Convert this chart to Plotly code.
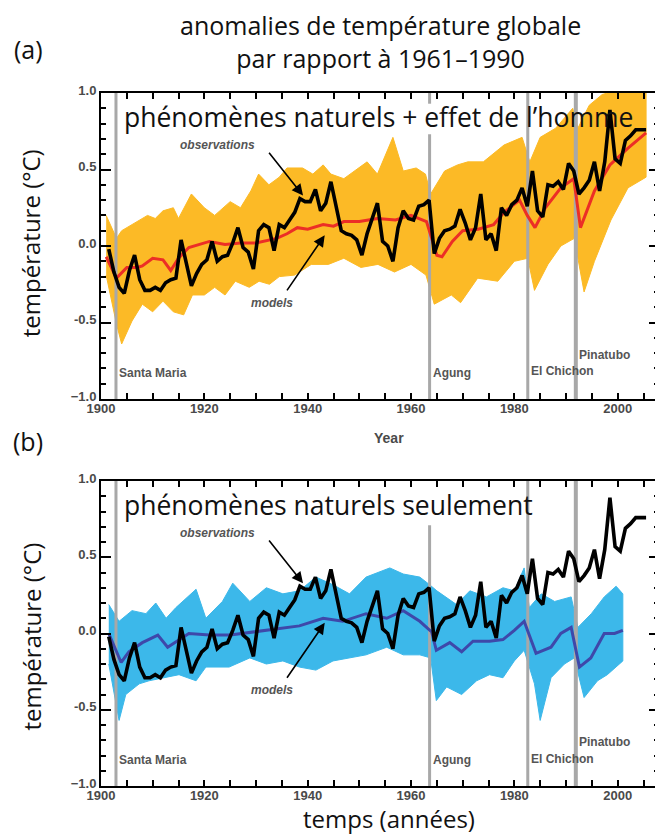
import plotly.graph_objects as go

# observed annual anomalies (°C), plotted at mid-year
obs_years = list(range(1901, 2006))
obs_vals = [
    -0.02, -0.17, -0.27, -0.31, -0.16, -0.06, -0.22, -0.29, -0.29, -0.27,   # 1901-1910
    -0.29, -0.24, -0.22, -0.21, 0.04, -0.12, -0.26, -0.18, -0.12, -0.09,    # 1911-1920
    0.03, -0.10, -0.07, -0.06, 0.02, 0.12, -0.01, -0.04, -0.15, 0.10,       # 1921-1930
    0.14, 0.12, -0.03, 0.14, 0.12, 0.17, 0.22, 0.31, 0.29, 0.29,            # 1931-1940
    0.37, 0.23, 0.28, 0.42, 0.25, 0.10, 0.08, 0.07, 0.04, -0.06,            # 1941-1950
    0.08, 0.18, 0.28, 0.03, 0.00, -0.10, 0.12, 0.23, 0.18, 0.17,            # 1951-1960
    0.26, 0.27, 0.30, -0.05, 0.05, 0.10, 0.11, 0.13, 0.24, 0.15,            # 1961-1970
    0.04, 0.12, 0.34, 0.04, 0.08, -0.03, 0.25, 0.20, 0.27, 0.30,            # 1971-1980
    0.38, 0.26, 0.49, 0.23, 0.19, 0.40, 0.39, 0.42, 0.37, 0.54,             # 1981-1990
    0.49, 0.34, 0.38, 0.43, 0.55, 0.36, 0.55, 0.89, 0.57, 0.54,             # 1991-2000
    0.69, 0.72, 0.76, 0.76, 0.76,                                            # 2001-2005
]

# (a) natural + anthropogenic: model ensemble envelope and mean
a_up_years = [1901, 1903, 1904, 1907, 1909, 1910.5, 1912, 1914, 1915, 1917.5, 1920, 1922,
              1925, 1927, 1929, 1930.5, 1932.5, 1934.5, 1936, 1939, 1941, 1943, 1944.5,
              1947, 1951.5, 1953.5, 1956.5, 1958.5, 1961, 1962.8, 1963.8, 1966.5, 1969,
              1971, 1974, 1978, 1981.5, 1983, 1985, 1988, 1991.3, 1992.3, 1994.5, 1997,
              2001, 2005.5]
a_up_vals = [0.20, 0.05, 0.10, 0.16, 0.20, 0.18, 0.23, 0.25, 0.18, 0.34, 0.25, 0.20,
             0.29, 0.25, 0.36, 0.47, 0.40, 0.45, 0.51, 0.51, 0.47, 0.53, 0.47,
             0.44, 0.55, 0.47, 0.71, 0.49, 0.51, 0.47, 0.34, 0.49, 0.53,
             0.55, 0.55, 0.66, 0.71, 0.55, 0.71, 0.77, 0.90, 0.77, 0.92, 0.99,
             1.03, 1.00]
a_lo_years = [1901, 1903, 1904, 1906, 1908, 1910, 1912, 1914, 1916, 1917.7, 1920, 1922,
              1924, 1926, 1928.7, 1930.6, 1932.6, 1934.5, 1937.5, 1940.7, 1944, 1947,
              1950.3, 1953.6, 1956.8, 1960, 1962.9, 1964.5, 1967.8, 1969.6, 1972.9, 1976.8,
              1980, 1982.6, 1983.9, 1986.5, 1989, 1991.6, 1993.5, 1995.5, 1998.7, 2002, 2005.5]
a_lo_vals = [-0.19, -0.51, -0.64, -0.49, -0.38, -0.43, -0.36, -0.43, -0.45, -0.32, -0.32, -0.27,
             -0.32, -0.23, -0.27, -0.23, -0.25, -0.20, -0.19, -0.12, -0.12, -0.08,
             -0.14, -0.12, -0.17, -0.12, -0.19, -0.38, -0.32, -0.37, -0.21, -0.23,
             -0.10, -0.08, -0.29, -0.12, 0.00, 0.05, -0.30, -0.10, 0.17, 0.38, 0.45]
a_mean_years = [1901, 1903, 1905, 1907, 1908, 1910, 1912, 1913.5, 1915, 1917, 1921, 1924,
                1927, 1930, 1934, 1936, 1938, 1940, 1943, 1945, 1947, 1950, 1953.5, 1957,
                1960, 1963, 1965, 1966, 1968, 1970, 1973, 1976, 1978, 1981, 1982.5, 1984,
                1986, 1989, 1991.5, 1992.8, 1995.5, 1998.5, 2002, 2005.5]
a_mean_vals = [-0.07, -0.21, -0.14, -0.14, -0.13, -0.08, -0.09, -0.16, -0.08, -0.01, 0.03, 0.01,
               0.02, 0.02, 0.05, 0.08, 0.12, 0.11, 0.14, 0.13, 0.16, 0.16, 0.18, 0.17,
               0.20, 0.16, -0.06, -0.07, 0.03, 0.10, 0.11, 0.14, 0.22, 0.30, 0.20, 0.12,
               0.25, 0.38, 0.44, 0.12, 0.36, 0.53, 0.64, 0.74]

# (b) natural forcing only
b_up_years = [1901.5, 1903.5, 1906, 1908.7, 1910.6, 1912.6, 1914.5, 1918.4, 1920.3, 1923.5,
              1925.5, 1928.8, 1932, 1935.2, 1938.4, 1941.6, 1944.9, 1948.1, 1951.3, 1955.9,
              1958.5, 1961.7, 1963.6, 1965, 1968.8, 1971.4, 1974.6, 1977.8, 1980, 1981.9,
              1982.9, 1985.2, 1987.8, 1991, 1992.3, 1994.9, 1997.4, 1999.7, 2001]
b_up_vals = [0.19, 0.08, 0.15, 0.13, 0.20, 0.10, 0.17, 0.29, 0.10, 0.21,
             0.33, 0.21, 0.30, 0.26, 0.28, 0.37, 0.32, 0.26, 0.37, 0.43,
             0.39, 0.37, 0.32, 0.28, 0.19, 0.28, 0.24, 0.30, 0.28, 0.43,
             0.17, 0.26, 0.21, 0.24, 0.04, 0.13, 0.24, 0.31, 0.26]
b_lo_years = [1901.5, 1903.5, 1904.8, 1907.4, 1909.3, 1911.9, 1915.1, 1918.4, 1920.3, 1924.8,
              1928.8, 1932, 1935.2, 1938.4, 1941.6, 1944.9, 1948.1, 1951.3, 1955.3, 1958.5,
              1961.7, 1963.8, 1964.9, 1966.9, 1969.8, 1972.7, 1975.2, 1977.8, 1980, 1981.9,
              1983.9, 1985, 1987.1, 1989.7, 1991.6, 1993.5, 1996.1, 1998, 2001]
b_lo_vals = [-0.20, -0.57, -0.40, -0.33, -0.31, -0.29, -0.27, -0.31, -0.22, -0.22,
             -0.16, -0.20, -0.18, -0.22, -0.24, -0.18, -0.16, -0.14, -0.09, -0.14,
             -0.14, -0.16, -0.44, -0.35, -0.40, -0.31, -0.27, -0.29, -0.18, -0.11,
             -0.33, -0.57, -0.29, -0.20, -0.16, -0.42, -0.31, -0.27, -0.18]
b_mean_years = [1901.5, 1903.9, 1905.4, 1908, 1911, 1912.9, 1917, 1921, 1925, 1932, 1938.4,
                1943, 1946.8, 1951.3, 1955.3, 1958.5, 1961.7, 1964, 1964.9, 1967.5, 1969.8,
                1972, 1975.2, 1977.8, 1980, 1981.9, 1984.2, 1987.1, 1989, 1991, 1992.6,
                1994.8, 1997.4, 1999.4, 2001]
b_mean_vals = [0.00, -0.19, -0.12, -0.06, -0.01, -0.09, 0.00, -0.01, -0.01, 0.02, 0.05,
               0.10, 0.08, 0.13, 0.10, 0.15, 0.08, 0.01, -0.11, -0.06, -0.12,
               -0.05, -0.05, -0.04, 0.02, 0.08, -0.13, -0.09, 0.00, 0.04, -0.22,
               -0.16, 0.00, 0.00, 0.02]

volcano_names = ["Santa Maria", "Agung", "El Chichon", "Pinatubo"]
volcano_years = [1902.9, 1963.6, 1982.6, 1991.9]

ORANGE = "rgb(252,186,38)"
BLUE = "rgb(60,184,234)"
RED = "rgb(236,46,38)"
NAVY = "rgb(62,72,170)"
GREY = "rgb(168,168,168)"
TXT = "Open Sans"

fig = go.Figure()


def add_panel(xa, ya, up_x, up_y, lo_x, lo_y, m_x, m_y, band_col, mean_col, agung_segments):
    # ensemble envelope
    fig.add_trace(go.Scatter(x=up_x + lo_x[::-1], y=up_y + lo_y[::-1], fill="toself",
                             fillcolor=band_col, line=dict(color=band_col, width=1),
                             mode="lines", xaxis=xa, yaxis=ya, hoverinfo="skip"))
    # volcanic eruptions
    for name, yr in zip(volcano_names, volcano_years):
        segs = agung_segments if name == "Agung" else [(-1, 1)]
        w = 4 if name == "Pinatubo" else 3
        for y0, y1 in segs:
            fig.add_trace(go.Scatter(x=[yr, yr], y=[y0, y1], mode="lines",
                                     line=dict(color=GREY, width=w), xaxis=xa, yaxis=ya,
                                     hoverinfo="skip"))
    fig.add_trace(go.Scatter(x=m_x, y=m_y, mode="lines", line=dict(color=mean_col, width=3),
                             xaxis=xa, yaxis=ya))
    fig.add_trace(go.Scatter(x=[y + 0.5 for y in obs_years], y=obs_vals, mode="lines",
                             line=dict(color="black", width=3.6), xaxis=xa, yaxis=ya))


add_panel("x", "y", a_up_years, a_up_vals, a_lo_years, a_lo_vals, a_mean_years, a_mean_vals,
          ORANGE, RED, [(0.93, 1.0), (-1.0, 0.73)])
add_panel("x2", "y2", b_up_years, b_up_vals, b_lo_years, b_lo_vals, b_mean_years, b_mean_vals,
          BLUE, NAVY, [(-1.0, 0.71)])

tickfont = dict(family="Liberation Sans", size=13, color="#4a4a4a", weight="bold")
xax = dict(range=[1900, 2008], tickvals=[1900, 1920, 1940, 1960, 1980, 2000],
           ticks="inside", ticklen=6, tickwidth=2, tickcolor="black", ticklabelstandoff=-4,
           minor=dict(dtick=5, ticks="inside", ticklen=6, tickwidth=2, tickcolor="black"),
           showline=True, linecolor="black", linewidth=2, mirror="ticks",
           showgrid=False, zeroline=False, tickfont=tickfont)
yax = dict(range=[-1, 1], tickvals=[-1, -0.5, 0, 0.5, 1],
           ticktext=["\u22121.0", "-0.5", "0.0", "0.5", "1.0"], ticklabelshift=-3,
           ticks="inside", ticklen=10, tickwidth=2, tickcolor="black",
           minor=dict(dtick=0.1, ticks="inside", ticklen=5, tickwidth=2, tickcolor="black"),
           showline=True, linecolor="black", linewidth=2, mirror="ticks",
           showgrid=False, zeroline=False, tickfont=tickfont)

fig.update_layout(
    width=663, height=834,
    margin=dict(l=93, r=10, t=85, b=56),
    paper_bgcolor="white", plot_bgcolor="white",
    showlegend=False,
    xaxis=dict(xax, anchor="y"),
    yaxis=dict(yax, domain=[0.5584, 1.0], anchor="x"),
    xaxis2=dict(xax, anchor="y2"),
    yaxis2=dict(yax, domain=[0.0, 0.4401], anchor="x2"),
)

ann = []


def paper(text, x, y, size=24, font=None, **kw):
    ann.append(dict(text=text, xref="paper", yref="paper", x=x, y=y, showarrow=False,
                    xanchor="center", yanchor="middle",
                    font=font or dict(family=TXT, size=size, color="#111"), **kw))


paper("anomalies de température globale<br>par rapport à 1961\u20131990", 0.5, 1.0736, size=25)
paper("(a)", -0.13, 1.0635, size=25)
paper("(b)", -0.13, 0.4978, size=25)
paper("température (°C)", -0.125, 0.7836, size=24, textangle=-90)
paper("température (°C)", -0.125, 0.216, size=24, textangle=-90)
paper("temps (années)", 0.516, -0.0462, size=24)
paper("Year", 0.516, 0.502,
      font=dict(family="Liberation Sans", size=14, color="#4a4a4a", weight="bold"))

small = dict(family="Liberation Sans", size=12, color="#555", weight="bold")
italic = dict(family="Liberation Sans", size=12, color="#555", weight="bold", style="italic")
label_pos = {"Santa Maria": -0.83, "Agung": -0.83, "El Chichon": -0.82, "Pinatubo": -0.71}
for xa, ya, heading in [("x", "y", "phénomènes naturels + effet de l\u2019homme"),
                        ("x2", "y2", "phénomènes naturels seulement")]:
    ann.append(dict(text=heading, xref=xa, yref=ya, x=1904, y=0.84, xanchor="left",
                    yanchor="middle", showarrow=False,
                    font=dict(family=TXT, size=26.5, color="#111")))
    for name, yr in zip(volcano_names, volcano_years):
        ann.append(dict(text=name, xref=xa, yref=ya, x=yr + 0.2, y=label_pos[name],
                        xanchor="left", yanchor="middle", showarrow=False, font=small))
    ann.append(dict(text="observations", xref=xa, yref=ya, x=1922.5, y=0.66,
                    xanchor="center", yanchor="middle", showarrow=False, font=italic))
    ann.append(dict(text="models", xref=xa, yref=ya, x=1933, y=-0.37,
                    xanchor="center", yanchor="middle", showarrow=False, font=italic))
    # arrows
    ann.append(dict(text="", xref=xa, yref=ya, axref=xa, ayref=ya, x=1939.1, y=0.33,
                    ax=1932.3, ay=0.62, showarrow=True, arrowhead=2, arrowsize=1.4,
                    arrowwidth=1.6, arrowcolor="black"))
    ann.append(dict(text="", xref=xa, yref=ya, axref=xa, ayref=ya, x=1943.3, y=0.07,
                    ax=1935.8, ay=-0.30, showarrow=True, arrowhead=2, arrowsize=1.4,
                    arrowwidth=1.6, arrowcolor="black"))

fig.update_layout(annotations=ann)

fig.write_html("out.html")
